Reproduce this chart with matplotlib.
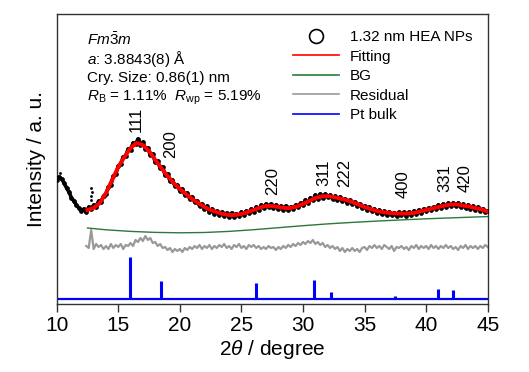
import numpy as np
import matplotlib
matplotlib.use("Agg")
import matplotlib.pyplot as plt
from matplotlib.lines import Line2D

plt.rcParams['font.family'] = ['Liberation Sans', 'DejaVu Sans']
plt.rcParams['mathtext.fontset'] = 'custom'
plt.rcParams['mathtext.rm'] = 'Liberation Sans'
plt.rcParams['mathtext.it'] = 'Liberation Sans:italic'
plt.rcParams['mathtext.bf'] = 'Liberation Sans:bold'

# observed pattern, 2theta = 10.0 ... 45.0 in 0.2 deg steps
obs_start, obs_step = 10.0, 0.2
obs = [
    124, 127, 125, 121, 116,   # 10
    112, 106, 103, 99, 96,     # 11
    93, 95, 92, 97, 95,        # 12
    99, 97, 103, 102, 108,     # 13
    110, 117, 119, 128, 130,   # 14
    138, 140, 147, 148, 155,   # 15
    154, 161, 160, 165, 159,   # 16
    162, 155, 156, 149, 150,   # 17
    142, 143, 136, 137, 129,   # 18
    130, 123, 124, 118, 119,   # 19
    113, 115, 109, 111, 105,   # 20
    107, 102, 103, 98, 100,    # 21
    95, 98, 92, 95, 90,        # 22
    93, 89, 92, 88, 91,        # 23
    87, 91, 87, 90, 88,        # 24
    92, 89, 93, 91, 95,        # 25
    92, 97, 94, 99, 96,        # 26
    100, 97, 100, 96, 99,      # 27
    95, 98, 94, 98, 94,        # 28
    97, 95, 99, 97, 101,       # 29
    99, 104, 101, 106, 104,    # 30
    109, 105, 110, 106, 110,   # 31
    107, 109, 105, 108, 104,   # 32
    107, 103, 105, 101, 104,   # 33
    100, 102, 98, 100, 96,     # 34
    98, 94, 97, 93, 95,        # 35
    91, 94, 90, 93, 89,        # 36
    92, 89, 91, 88, 92,        # 37
    89, 92, 88, 92, 89,        # 38
    93, 90, 94, 91, 95,        # 39
    93, 96, 94, 97, 95,        # 40
    99, 96, 100, 97, 101,      # 41
    98, 101, 98, 101, 97,      # 42
    100, 96, 99, 95, 98,       # 43
    94, 97, 93, 95, 92,        # 44
    93,                        # 45
]
# a few stray points at the start of the fitted range
stray_x = [10.27, 12.80, 12.82, 12.84, 12.80]
stray_y = [131, 104, 108, 112, 116]

# Rietveld fit
fit_x = [12.5, 13.0, 13.5, 14.0, 14.5, 15.0, 15.5, 16.0, 16.5, 17.0, 17.5, 18.0,
         18.5, 19.0, 19.5, 20.0, 20.5, 21.0, 21.5, 22.0, 22.5, 23.0, 23.5, 24.0,
         24.5, 25.0, 25.5, 26.0, 26.5, 27.0, 27.5, 28.0, 28.5, 29.0, 29.5, 30.0,
         30.5, 31.0, 31.5, 32.0, 32.5, 33.0, 33.5, 34.0, 34.5, 35.0, 35.5, 36.0,
         36.5, 37.0, 37.5, 38.0, 38.5, 39.0, 39.5, 40.0, 40.5, 41.0, 41.5, 42.0,
         42.5, 43.0, 43.5, 44.0, 44.5, 45.0]
fit_y = [94, 96, 101, 111, 124, 137, 147, 156, 161, 159, 153, 144,
         136, 128, 121, 115, 110, 105, 101, 97, 94, 92, 90, 89,
         89, 90, 92, 94, 96.5, 98, 98, 97, 96, 96, 97.5, 100,
         103, 106, 107.5, 108, 107, 105.5, 104, 102, 99.5, 97, 95, 93,
         92, 91, 90.5, 90.5, 90.5, 91, 92.5, 94, 95.5, 97, 98.5, 99.5,
         99.5, 98.5, 97.5, 96, 94.5, 92.5]

# background
bg_x = [12.5, 14, 16, 18, 20, 22, 24, 26, 28, 30, 32, 34, 36, 38, 40, 42, 44, 45]
bg_y = [76, 74.2, 72.6, 71.6, 71.2, 71.5, 72.6, 74.3, 76.3, 78.3, 80.1, 81.6,
        82.9, 84.1, 85.2, 86.1, 87.0, 87.4]

# residual (offset), 2theta = 12.4 ... 45.0 in 0.2 deg steps
res_start, res_step = 12.4, 0.2
res = [
    58, 56, 74,
    55, 60, 57, 59, 55,   # 13
    58, 55, 60, 56, 59,   # 14
    57, 60, 55, 59, 58,   # 15
    61, 58, 64, 62, 66,   # 16
    63, 68, 64, 66, 61,   # 17
    62, 58, 60, 56, 57,   # 18
    54, 56, 52, 55, 53,   # 19
    55, 52, 56, 54, 57,   # 20
    55, 58, 56, 59, 55,   # 21
    58, 56, 59, 55, 58,   # 22
    56, 59, 57, 60, 56,   # 23
    58, 55, 59, 57, 60,   # 24
    56, 58, 55, 59, 57,   # 25
    59, 56, 58, 55, 57,   # 26
    55, 58, 56, 57, 54,   # 27
    57, 55, 58, 56, 59,   # 28
    57, 60, 58, 61, 59,   # 29
    62, 60, 63, 61, 64,   # 30
    60, 62, 59, 61, 57,   # 31
    59, 56, 58, 55, 57,   # 32
    53, 56, 52, 55, 53,   # 33
    56, 53, 55, 52, 56,   # 34
    57, 54, 58, 56, 59,   # 35
    56, 58, 55, 59, 57,   # 36
    55, 58, 53, 57, 56,   # 37
    58, 55, 57, 54, 58,   # 38
    56, 59, 55, 58, 56,   # 39
    58, 55, 59, 56, 58,   # 40
    55, 58, 56, 59, 56,   # 41
    58, 55, 57, 54, 58,   # 42
    56, 59, 55, 58, 56,   # 43
    58, 55, 58, 56, 59,   # 44
    57,
]

# Pt bulk reference
pt_base = 5
pt_pos = [15.93, 18.46, 26.2, 30.9, 32.3, 37.5, 41.0, 42.2]
pt_int = [47, 23, 21, 24, 12, 8, 15, 14]

# hkl labels
hkl = ['111', '200', '220', '311', '222', '400', '331', '420']
hkl_x = [16.44, 19.29, 27.51, 31.66, 33.42, 38.16, 41.49, 43.17]
hkl_y = [172, 146, 109, 118, 117, 106, 112, 112]

obs_x = obs_start + obs_step * np.arange(len(obs))
res_x = res_start + res_step * np.arange(len(res))

fig = plt.figure(figsize=(5.29, 3.72), dpi=100)
ax = fig.add_axes([0.1072, 0.1828, 0.8147, 0.7788])

ax.plot(obs_x, obs, '-', color='black', lw=2.6, zorder=3)
ax.plot(obs_x, obs, 'o', ms=2.8, mfc='black', mec='black', mew=0.5, zorder=3)
ax.plot(stray_x, stray_y, 'o', ms=1.5, mfc='black', mec='black', mew=0.5, zorder=3)
ax.plot(fit_x, fit_y, color='#ff0000', lw=2.8, zorder=4)
ax.plot(bg_x, bg_y, color='#2a7a3a', lw=1.0, zorder=2)
ax.plot(res_x, res, color='#999999', lw=1.6, zorder=2)

ax.plot([10, 45], [pt_base, pt_base], color='#0000ff', lw=1.6, zorder=2)
ax.vlines(pt_pos, pt_base, pt_int, color='#0000ff', lw=2.2, zorder=2)

for lab, hx, hy in zip(hkl, hkl_x, hkl_y):
    ax.text(hx, hy, lab, rotation=90, ha='center', va='bottom', fontsize=12)

info = [r'$\mathit{Fm}\bar{3}\mathit{m}$',
        r'$\mathit{a}$: 3.8843(8) Å',
        'Cry. Size: 0.86(1) nm',
        r'$\mathit{R}_\mathrm{B}$ = 1.11%  $\mathit{R}_\mathrm{wp}$ = 5.19%']
for i, s in enumerate(info):
    ax.text(0.0696, 0.894 - i * 0.064, s, transform=ax.transAxes,
            ha='left', va='baseline', fontsize=11)

handles = [
    Line2D([], [], ls='none', marker='o', ms=10, mfc='none', mec='black', mew=1.2),
    Line2D([], [], color='#ff0000', lw=1.2),
    Line2D([], [], color='#2a7a3a', lw=1.2),
    Line2D([], [], color='#999999', lw=1.2),
    Line2D([], [], color='#0000ff', lw=1.2),
]
labels = ['1.32 nm HEA NPs', 'Fitting', 'BG', 'Residual', 'Pt bulk']
ax.legend(handles, labels, loc='upper left', bbox_to_anchor=(0.548, 0.945),
          frameon=False, fontsize=11, handlelength=3.0, handletextpad=0.75,
          labelspacing=0.36, borderpad=0, borderaxespad=0)

ax.set_xlim(10, 45)
ax.set_ylim(0, 289.7)
ax.set_xticks(np.arange(10, 46, 5))
ax.set_yticks([])
ax.tick_params(axis='x', direction='out', length=6, width=1, labelsize=15, pad=3,
               color='#333333')
for sp in ax.spines.values():
    sp.set_color('#333333')
    sp.set_linewidth(1)
ax.set_xlabel(r'2$\mathit{\theta}$ / degree', fontsize=15, labelpad=2)
ax.set_ylabel('Intensity / a. u.', fontsize=15, labelpad=8)

fig.savefig('out.png', dpi=100, facecolor='white')
